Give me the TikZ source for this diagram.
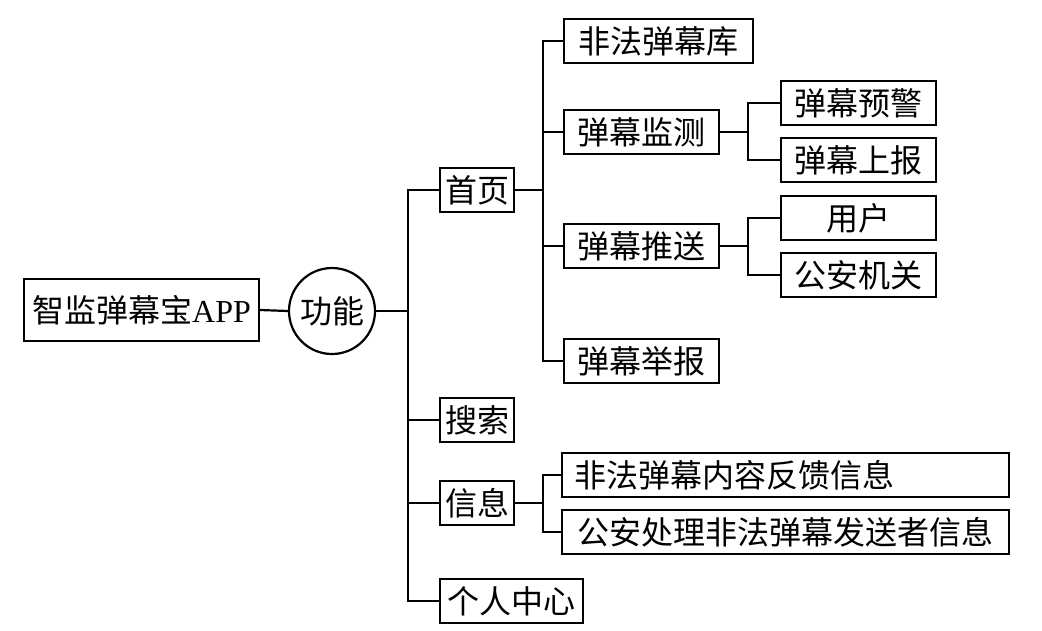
\documentclass[tikz,border=0pt]{standalone}
\usepackage{fontspec}
\setmainfont{Liberation Serif}
\newfontfamily\cjk{Noto Sans CJK SC}
\usetikzlibrary{positioning}

\tikzset{
  box/.style={draw, line width=2.2pt, inner sep=0pt, minimum height=44pt, anchor=west,
    font=\cjk\fontsize{32}{38}\selectfont},
  link/.style={line width=2.2pt}
}

\begin{document}
\begin{tikzpicture}[x=1pt, y=-1pt]
  \useasboundingbox (0,0) rectangle (1042,630);

  % root and function circle
  \node[box, minimum width=235pt, minimum height=62pt] (app) at (23,310) {智监弹幕宝{\rmfamily APP}};
  \node[draw, circle, line width=2.2pt, minimum size=86pt, inner sep=0pt,
        font=\cjk\fontsize{32}{38}\selectfont] (func) at (332,311) {功能};

  % first level
  \node[box, minimum width=74pt] (home) at (439,190) {首页};
  \node[box, minimum width=74pt] (search) at (439,420) {搜索};
  \node[box, minimum width=74pt] (info) at (439,503) {信息};
  \node[box, minimum width=143pt] (mine) at (439,601) {个人中心};

  % home page
  \node[box, minimum width=189pt] (lib) at (563,41) {非法弹幕库};
  \node[box, minimum width=155pt] (monitor) at (563,132) {弹幕监测};
  \node[box, minimum width=155pt] (push) at (563,246) {弹幕推送};
  \node[box, minimum width=155pt] (report) at (563,361) {弹幕举报};

  \node[box, minimum width=155pt] (warn) at (780,103) {弹幕预警};
  \node[box, minimum width=155pt] (upload) at (780,160) {弹幕上报};
  \node[box, minimum width=155pt] (user) at (780,218) {用户};
  \node[box, minimum width=155pt] (police) at (780,275) {公安机关};

  % information
  \node[box, minimum width=447pt, text width=423pt, align=left, inner xsep=12pt] (feedback) at (561,475) {非法弹幕内容反馈信息};
  \node[box, minimum width=447pt] (sender) at (561,532) {公安处理非法弹幕发送者信息};

  % forks
  \coordinate (mainfork) at (408,311);
  \coordinate (homefork) at (543,190);
  \coordinate (monfork) at (748,132);
  \coordinate (pushfork) at (748,246);
  \coordinate (infofork) at (543,503);

  \draw[link] (app.east) -- (func.west);
  \draw[link] (func.east) -- (mainfork);
  \draw[link] (mainfork) |- (home.west);
  \draw[link] (mainfork) |- (search.west);
  \draw[link] (mainfork) |- (info.west);
  \draw[link] (mainfork) |- (mine.west);

  \draw[link] (home.east) -- (homefork);
  \draw[link] (homefork) |- (lib.west);
  \draw[link] (homefork) |- (monitor.west);
  \draw[link] (homefork) |- (push.west);
  \draw[link] (homefork) |- (report.west);

  \draw[link] (monitor.east) -- (monfork);
  \draw[link] (monfork) |- (warn.west);
  \draw[link] (monfork) |- (upload.west);
  \draw[link] (push.east) -- (pushfork);
  \draw[link] (pushfork) |- (user.west);
  \draw[link] (pushfork) |- (police.west);

  \draw[link] (info.east) -- (infofork);
  \draw[link] (infofork) |- (feedback.west);
  \draw[link] (infofork) |- (sender.west);

\end{tikzpicture}
\end{document}
